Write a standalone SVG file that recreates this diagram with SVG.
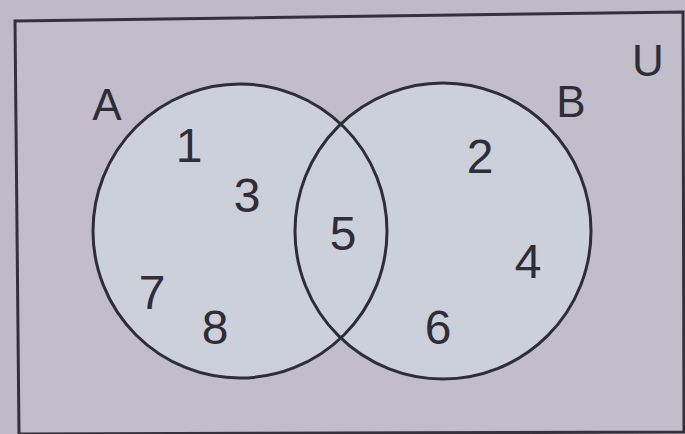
<svg xmlns="http://www.w3.org/2000/svg" width="685" height="434" viewBox="0 0 685 434">
<style>
.bg{fill:#bfbac7}
.frame{fill:#c2bdca;stroke:#34313c;stroke-width:3}
.set{fill:#ccd0da;stroke:none}
.ring{fill:none;stroke:#2f2d38;stroke-width:3}
text{font-family:"Liberation Sans",Arial,sans-serif;fill:#2f2d38;text-anchor:middle}
.lbl{font-size:44px}
.num{font-size:48px}
</style>
<rect class="bg" x="0" y="0" width="685" height="434"/>
<g id="universe">
<polygon class="frame" points="15,21 683,12 684,432 19,434"/>
<text class="lbl" x="648" y="76">U</text>
</g>
<g id="fills">
<circle class="set" cx="240" cy="231" r="147"/>
<circle class="set" cx="443" cy="231" r="148"/>
</g>
<g id="setA">
<circle class="ring" cx="240" cy="231" r="147"/>
<text class="lbl" x="107" y="120">A</text>
<text class="num" x="189" y="162">1</text>
<text class="num" x="247" y="212">3</text>
<text class="num" x="152" y="309">7</text>
<text class="num" x="215" y="344">8</text>
</g>
<g id="setB">
<circle class="ring" cx="443" cy="231" r="148"/>
<text class="lbl" x="571" y="117">B</text>
<text class="num" x="480" y="173">2</text>
<text class="num" x="528" y="278">4</text>
<text class="num" x="438" y="344">6</text>
</g>
<g id="intersection">
<text class="num" x="343" y="250">5</text>
</g>
<g id="connectors"></g>
</svg>
